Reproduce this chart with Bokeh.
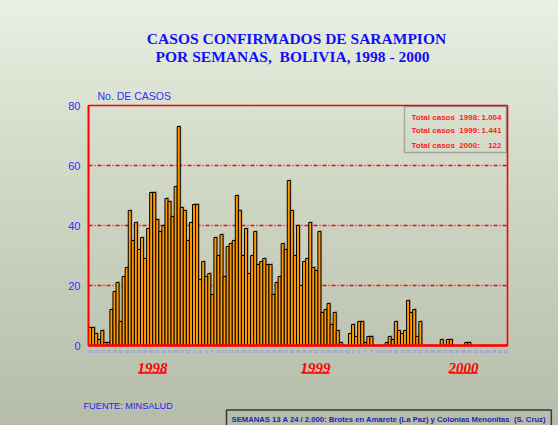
from bokeh.plotting import figure
from bokeh.layouts import column
from bokeh.models import Range1d, FixedTicker, Label, ColumnDataSource, BoxAnnotation, Arrow, Span
from bokeh.embed import file_html
from bokeh.resources import INLINE

# ---------------- data ----------------
weeks_1998 = list(range(20, 53))
cases_1998 = [6, 6, 4, 2, 5, 1, 1, 12, 18, 21, 8, 23, 26, 45, 35, 41, 32, 36, 29, 39,
              51, 51, 42, 38, 40, 49, 48, 43, 53, 73, 46, 45, 35]
weeks_1999 = list(range(1, 53))
cases_1999 = [41, 47, 47, 22, 28, 23, 24, 17, 36, 30, 37, 23, 33, 34, 35, 50, 45, 30, 39, 24,
              30, 38, 27, 28, 29, 27, 27, 17, 21, 23, 34, 32, 55, 45, 30, 40, 20, 28, 29, 41,
              26, 25, 38, 11, 12, 14, 7, 11, 5, 1, 0, 0]
weeks_2000 = list(range(1, 53))
cases_2000 = [4, 7, 3, 8, 8, 1, 3, 3, 0, 0, 0, 0, 1, 3, 2, 8, 5, 4, 5, 15, 11, 12, 3, 8,
              0, 0, 0, 0, 0, 0, 2, 0, 2, 2, 0, 0, 0, 0, 1, 1, 0, 0, 0, 0, 0, 0, 0, 0, 0, 0, 0, 0]
year_labels = ["1998", "1999", "2000"]
total_labels = ["1.004", "1.441", "122"]
y_ticks = [0, 20, 40, 60, 80]
grid_values = [20, 40, 60]

NB = "\u00a0"
title_lines = ["CASOS CONFIRMADOS DE SARAMPION", "POR SEMANAS," + NB + " BOLIVIA, 1998 - 2000"]
y_title = "No. DE CASOS"
source_text = "FUENTE: MINSALUD"
note_text = ("SEMANAS 13 A 24 / 2.000: Brotes en Amarete (La Paz) y Colonias Menonitas"
             + NB + " (S. Cruz)")

weeks = weeks_1998 + weeks_1999 + weeks_2000
cases = cases_1998 + cases_1999 + cases_2000
idx = list(range(1, len(weeks) + 1))
N = len(weeks)

src = ColumnDataSource(dict(x=idx, top=cases,
                            sx=[i + 0.4 for i in idx],
                            stop=[c + 0.5 if c > 0 else 0 for c in cases]))

W = 558
H1, H2, H3 = 100, 257, 68         # header / chart / footer heights (y 0-100-357-425)
FL, FW = 88, 419                  # frame left & width inside the chart figure
FT, FH = 5, 240
FB = H2 - FT - FH
SX = FW / N
SY = FH / 80.0


def plain_fig(h):
    f = figure(width=W, height=h, output_backend="svg", toolbar_location=None,
               x_range=Range1d(0, W), y_range=Range1d(h, 0),
               x_axis_type=None, y_axis_type=None, min_border=0)
    f.frame_align = False
    f.background_fill_color = None
    f.border_fill_color = None
    f.outline_line_color = None
    return f


# ---------------- header ----------------
head = plain_fig(H1)
for t, cx, cy in zip(title_lines, [296, 292], [38, 56]):
    head.add_layout(Label(x=cx, y=cy, text=t, text_align="center", text_baseline="middle",
                          text_font="Liberation Serif", text_font_style="bold",
                          text_font_size="15.5px", text_color="#1010F8"))
head.add_layout(Label(x=97, y=95, text=y_title, text_align="left", text_baseline="middle",
                      text_font="Liberation Sans", text_font_size="10.5px", text_color="#2F2FFF"))

# ---------------- chart ----------------
p = figure(width=W, height=H2, output_backend="svg", toolbar_location=None,
           x_range=Range1d(0.5, N + 0.5), y_range=Range1d(0, 80),
           min_border_left=FL, min_border_top=FT,
           min_border_right=W - FL - FW, min_border_bottom=FB)
p.frame_align = False
p.background_fill_color = None
p.border_fill_color = None
p.outline_line_color = "#FF0000"
p.outline_line_width = 1.6

for v in grid_values:
    p.add_layout(Span(location=v, dimension="width", line_color="#FF0000",
                      line_dash="4 2 1 2", line_width=1.7, level="underlay"))

p.vbar(x="sx", top="stop", width=1.0, bottom=0, source=src,
       fill_color="#6E6E6E", fill_alpha=0.45, line_color=None)
p.vbar(x="x", top="top", width=1.0, bottom=0, source=src,
       fill_color="#FF9900", line_color="#000000", line_width=1)

p.xgrid.visible = False
p.ygrid.visible = False

p.yaxis.ticker = FixedTicker(ticks=y_ticks)
p.yaxis.axis_line_color = "#FF0000"
p.yaxis.axis_line_width = 1.6
p.yaxis.major_tick_line_color = None
p.yaxis.minor_tick_line_color = None
p.yaxis.major_tick_out = 0
p.yaxis.major_tick_in = 0
p.yaxis.major_label_text_color = "#2F2FFF"
p.yaxis.major_label_text_font = "Liberation Sans"
p.yaxis.major_label_text_font_size = "11px"
p.yaxis.major_label_standoff = 8

tick_pos = [i for i, w in zip(idx, weeks) if w % 2 == 0]
p.xaxis.ticker = FixedTicker(ticks=tick_pos)
p.xaxis.major_label_overrides = {i: str(w) for i, w in zip(idx, weeks) if w % 2 == 0}
p.xaxis.axis_line_color = "#FF0000"
p.xaxis.axis_line_width = 2.5
p.xaxis.major_tick_line_color = None
p.xaxis.minor_tick_line_color = None
p.xaxis.major_tick_out = 0
p.xaxis.major_tick_in = 0
p.xaxis.major_label_text_color = "#7C7CF4"
p.xaxis.major_label_text_font = "Liberation Sans"
p.xaxis.major_label_text_font_size = "4px"
p.xaxis.major_label_standoff = 4


def cx_(px):          # chart canvas px -> data x
    return 0.5 + (px - FL) / SX


def cy_(py):          # chart canvas px -> data y
    return 80 - (py - FT) / SY


# totals box (image y = chart canvas y + 100)
p.add_layout(BoxAnnotation(left=cx_(404), right=cx_(506), top=cy_(6), bottom=cy_(52),
                           fill_color=None, line_color="#303030", line_width=1.5))
for yl, tl, py in zip(year_labels, total_labels, [17, 30, 45]):
    p.add_layout(Label(x=cx_(411), y=cy_(py), text="Total casos" + NB + " " + yl + ":",
                       text_align="left", text_baseline="middle", text_font="Liberation Sans",
                       text_font_style="bold", text_font_size="8px", text_color="#FF1A1A"))
    p.add_layout(Label(x=cx_(501), y=cy_(py), text=tl, text_align="right",
                       text_baseline="middle", text_font="Liberation Sans", text_font_style="bold",
                       text_font_size="8px", text_color="#FF1A1A"))

# ---------------- footer (image y = footer y + 357) ----------------
foot = plain_fig(H3)
for yl, cx in zip(year_labels, [152, 315, 463]):
    foot.add_layout(Label(x=cx, y=10, text=yl, text_align="center", text_baseline="middle",
                          text_font="Liberation Serif", text_font_style="bold italic",
                          text_font_size="15px", text_color="#FF0000"))
    foot.add_layout(Arrow(x_start=cx - 14, x_end=cx + 14, y_start=15.5, y_end=15.5,
                          start=None, end=None, line_color="#FF0000", line_width=1.6))
foot.add_layout(Label(x=83, y=48, text=source_text, text_align="left", text_baseline="middle",
                      text_font="Liberation Sans", text_font_size="9.2px", text_color="#2222EE"))
foot.add_layout(Label(x=226, y=62, text=note_text, text_align="left", text_baseline="middle",
                      text_font="Liberation Sans", text_font_style="bold", text_font_size="7.7px",
                      text_color="#1F1FB8", border_line_color="#3A3A3A", border_line_width=1.5,
                      padding=5))

page = column(head, p, foot, spacing=0,
              styles={"background": "linear-gradient(180deg, #EAF0E2 0%, #D4DBC9 35%, #B5BCAA 100%)"})

open("out.html", "w").write(file_html(page, INLINE))
